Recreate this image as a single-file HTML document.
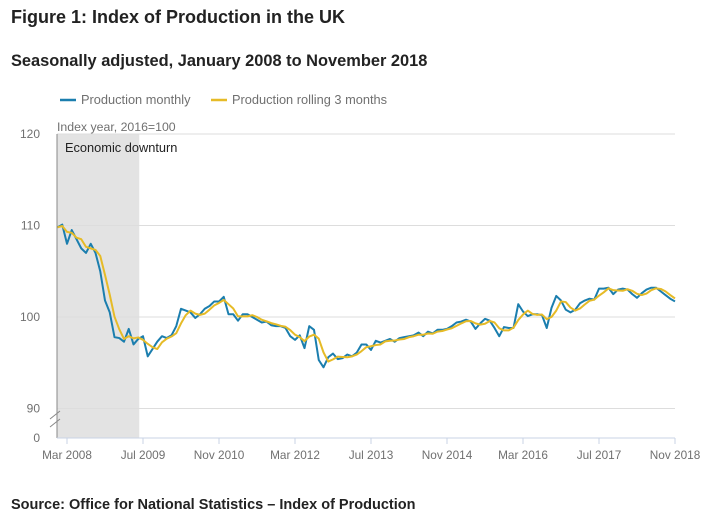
<!DOCTYPE html>
<html><head><meta charset="utf-8"><style>
body{margin:0;background:#fff;font-family:"Liberation Sans",sans-serif;}
svg text{font-family:"Liberation Sans",sans-serif;}
</style></head><body>
<svg id="c" width="707" height="522">
<text x="11" y="23" font-size="18" font-weight="bold" fill="#222">Figure 1: Index of Production in the UK</text>
<text x="11" y="66" font-size="16.4" font-weight="bold" fill="#222">Seasonally adjusted, January 2008 to November 2018</text>
<g>
<line x1="60" y1="100" x2="76" y2="100" stroke="#1b7eae" stroke-width="2.5"/>
<text x="81" y="104" font-size="12.8" fill="#707070">Production monthly</text>
<line x1="211" y1="100" x2="227" y2="100" stroke="#e6bb27" stroke-width="2.5"/>
<text x="232" y="104" font-size="12.8" fill="#707070">Production rolling 3 months</text>
</g>
<text x="11" y="509" font-size="14.5" font-weight="bold" fill="#222">Source: Office for National Statistics – Index of Production</text>
</svg>
<script>
const monthly=[109.8,110.1,108.0,109.5,108.5,107.5,107.0,108.0,107.0,105.0,101.8,100.5,
97.8,97.7,97.3,98.7,97.0,97.6,97.9,95.7,96.5,97.3,97.9,97.7,
98.0,99.0,100.9,100.7,100.5,99.9,100.3,100.9,101.2,101.7,101.7,102.2,
100.3,100.3,99.6,100.3,100.3,100.0,99.7,99.4,99.5,99.1,99.0,99.0,
98.8,97.9,97.5,98.0,96.6,99.0,98.6,95.3,94.5,95.6,96.0,95.4,
95.5,95.9,95.7,96.1,97.0,97.0,96.4,97.4,97.2,97.4,97.6,97.3,
97.7,97.8,97.9,98.0,98.3,97.9,98.4,98.2,98.6,98.6,98.7,99.0,
99.4,99.5,99.7,99.5,98.7,99.3,99.8,99.6,98.8,97.9,98.9,98.8,
98.8,101.4,100.6,100.1,100.3,100.3,100.2,98.8,101.0,102.3,101.8,100.8,
100.5,100.8,101.5,101.8,102.0,101.9,103.1,103.1,103.2,102.5,103.0,103.1,
103.0,102.5,102.1,102.6,103.0,103.2,103.2,102.8,102.4,102.0,101.7];
const yTicks=[90,100,110,120];
const xTickLabels=["Mar 2008","Jul 2009","Nov 2010","Mar 2012","Jul 2013","Nov 2014","Mar 2016","Jul 2017","Nov 2018"];
const xTickIndex=[2,18,34,50,66,82,98,114,130];
const shadeStart=0, shadeEnd=17;

const NS="http://www.w3.org/2000/svg",svg=document.getElementById('c');
const X0=57.5,PXM=4.75,L=57,R=675;
const x=i=>X0+i*PXM;
const y=v=>317-(v-100)*9.15;
function mk(t,a,p){const e=document.createElementNS(NS,t);for(const k in a)e.setAttribute(k,a[k]);(p||svg).appendChild(e);return e;}

const sh=mk('rect',{x:x(shadeStart),y:y(120),width:x(shadeEnd)-x(shadeStart)+1,height:438-y(120),fill:'#e3e3e3'});


const st=mk('text',{x:65,y:152,'font-size':12.8,fill:'#222'});st.textContent='Economic downturn';



yTicks.forEach(v=>{
 const g=mk('line',{x1:L,x2:R,y1:y(v),y2:y(v),stroke:'#ddd','stroke-width':1});
 
 
 const t=mk('text',{x:40,y:y(v)+4,'font-size':12,fill:'#707070','text-anchor':'end'});t.textContent=v;
 
 
});
const z=mk('text',{x:40,y:442,'font-size':12,fill:'#707070','text-anchor':'end'});z.textContent='0';


const yt=mk('text',{x:57,y:131,'font-size':12.3,fill:'#707070'});yt.textContent='Index year, 2016=100';


const ya=mk('line',{x1:L,x2:L,y1:y(120),y2:438,stroke:'#888','stroke-width':1});


const br=mk('path',{d:'M50,419 L60,411 M50,427 L60,419',stroke:'#888',fill:'none'});


const xa=mk('line',{x1:L,x2:R,y1:438,y2:438,stroke:'#c8d3e6','stroke-width':1});


xTickIndex.forEach((idx,k)=>{
 const l=mk('line',{x1:x(idx),x2:x(idx),y1:438,y2:444,stroke:'#c8d3e6'});
 
 
 const t=mk('text',{x:x(idx),y:459,'font-size':11.8,fill:'#707070','text-anchor':'middle'});t.textContent=xTickLabels[k];
 
 
});
const rolling=monthly.map((v,i)=>{const s=monthly.slice(Math.max(0,i-2),i+1);return s.reduce((a,b)=>a+b,0)/s.length;});
function line(d,col,name){
 const p=mk('polyline',{points:d.map((v,i)=>x(i)+','+y(v)).join(' '),fill:'none',stroke:col,'stroke-width':2,'stroke-linejoin':'round'});
 
 
}
line(monthly,'#1b7eae','production-monthly-line');
line(rolling,'#e6bb27','production-rolling-line');
</script>
</body></html>
